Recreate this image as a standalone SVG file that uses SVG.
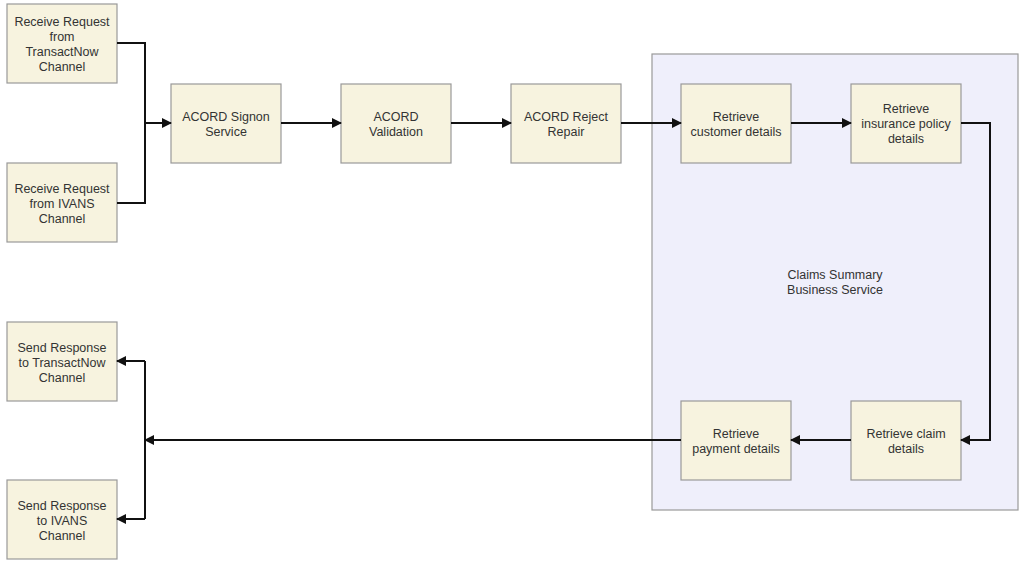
<svg xmlns="http://www.w3.org/2000/svg" width="1024" height="565" viewBox="0 0 1024 565">
<style>
.b{fill:#f7f3df;stroke:#999;stroke-width:1.2}
.t{font-family:"Liberation Sans",Arial,sans-serif;font-size:12.5px;fill:#333;text-anchor:middle}
.c{fill:none;stroke:#111;stroke-width:2}
</style>
<defs><marker id="a" markerWidth="10" markerHeight="10" refX="9" refY="5" orient="auto" markerUnits="userSpaceOnUse"><path d="M0,0 L10,5 L0,10 z" fill="#111"/></marker></defs>
<rect x="0" y="0" width="1024" height="565" fill="#fff"/>
<g id="panel"><rect x="652" y="54" width="366" height="456" fill="#efeffb" stroke="#999" stroke-width="1.2"/>
<text class="t" x="835" y="279">Claims Summary</text><text class="t" x="835" y="294">Business Service</text></g>
<g id="n1"><rect class="b" x="7" y="4" width="110" height="79"/><text class="t" x="62" y="26">Receive Request</text><text class="t" x="62" y="41">from</text><text class="t" x="62" y="56">TransactNow</text><text class="t" x="62" y="71">Channel</text></g>
<g id="n2"><rect class="b" x="7" y="163" width="110" height="79"/><text class="t" x="62" y="193">Receive Request</text><text class="t" x="62" y="208">from IVANS</text><text class="t" x="62" y="223">Channel</text></g>
<g id="n3"><rect class="b" x="171" y="84" width="110" height="79"/><text class="t" x="226" y="121">ACORD Signon</text><text class="t" x="226" y="136">Service</text></g>
<g id="n4"><rect class="b" x="341" y="84" width="110" height="79"/><text class="t" x="396" y="121">ACORD</text><text class="t" x="396" y="136">Validation</text></g>
<g id="n5"><rect class="b" x="511" y="84" width="110" height="79"/><text class="t" x="566" y="121">ACORD Reject</text><text class="t" x="566" y="136">Repair</text></g>
<g id="n6"><rect class="b" x="681" y="84" width="110" height="79"/><text class="t" x="736" y="121">Retrieve</text><text class="t" x="736" y="136">customer details</text></g>
<g id="n7"><rect class="b" x="851" y="84" width="110" height="79"/><text class="t" x="906" y="113">Retrieve</text><text class="t" x="906" y="128">insurance policy</text><text class="t" x="906" y="143">details</text></g>
<g id="n8"><rect class="b" x="851" y="401" width="110" height="79"/><text class="t" x="906" y="438">Retrieve claim</text><text class="t" x="906" y="453">details</text></g>
<g id="n9"><rect class="b" x="681" y="401" width="110" height="79"/><text class="t" x="736" y="438">Retrieve</text><text class="t" x="736" y="453">payment details</text></g>
<g id="n10"><rect class="b" x="7" y="322" width="110" height="79"/><text class="t" x="62" y="352">Send Response</text><text class="t" x="62" y="367">to TransactNow</text><text class="t" x="62" y="382">Channel</text></g>
<g id="n11"><rect class="b" x="7" y="480" width="110" height="79"/><text class="t" x="62" y="510">Send Response</text><text class="t" x="62" y="525">to IVANS</text><text class="t" x="62" y="540">Channel</text></g>
<g id="connectors">
<path class="c" d="M117,43 H145 V203 H117"/>
<path class="c" d="M145,123 H171" marker-end="url(#a)"/>
<path class="c" d="M281,123 H341" marker-end="url(#a)"/>
<path class="c" d="M451,123 H511" marker-end="url(#a)"/>
<path class="c" d="M621,123 H681" marker-end="url(#a)"/>
<path class="c" d="M791,123 H851" marker-end="url(#a)"/>
<path class="c" d="M961,123 H990 V440 H961" marker-end="url(#a)"/>
<path class="c" d="M851,440 H791" marker-end="url(#a)"/>
<path class="c" d="M681,440 H145" marker-end="url(#a)"/>
<path class="c" d="M145,361 V519"/>
<path class="c" d="M145,361 H117" marker-end="url(#a)"/>
<path class="c" d="M145,519 H117" marker-end="url(#a)"/>
</g>
</svg>
